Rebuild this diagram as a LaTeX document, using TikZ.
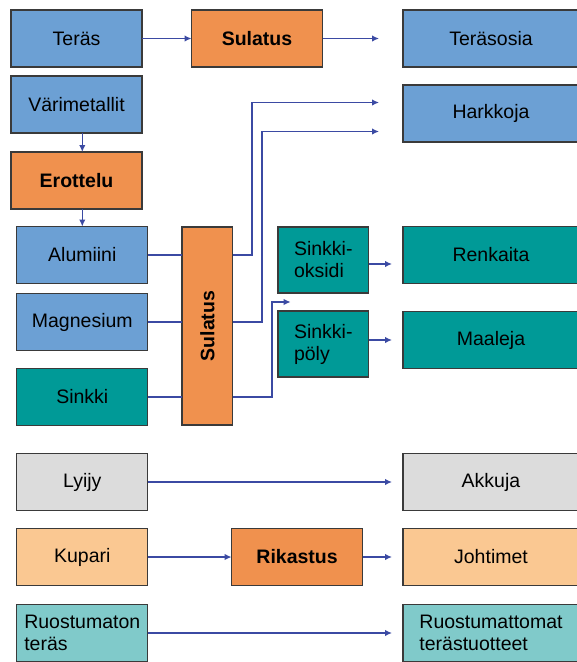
\documentclass[tikz,border=0pt]{standalone}
\usepackage{fontspec}
\setmainfont{Liberation Sans}
\usetikzlibrary{arrows.meta, calc, positioning}
\definecolor{metalblue}{RGB}{108,160,212}
\definecolor{steporange}{RGB}{240,145,78}
\definecolor{zincteal}{RGB}{0,154,151}
\definecolor{leadgray}{RGB}{220,220,220}
\definecolor{copperpeach}{RGB}{250,200,146}
\definecolor{stainlessteal}{RGB}{128,202,202}
\definecolor{flowblue}{RGB}{59,74,163}
\definecolor{edgegray}{RGB}{58,58,58}
\tikzstyle{material} = [rectangle, draw=edgegray, line width=1.3pt, minimum width=131pt, minimum height=57pt, align=left, outer sep=0pt]
\tikzstyle{process} = [material, fill=steporange, font=\bfseries]
\tikzstyle{product} = [material, minimum width=176pt]
\tikzstyle{arrow} = [flowblue, line width=1.5pt, ->, >={Latex[length=7pt,width=6.5pt]}]
\tikzstyle{link} = [flowblue, line width=1.5pt]

\begin{document}
\fontsize{19.5}{22}\selectfont
\begin{tikzpicture}[x=1pt, y=-1pt]
    \useasboundingbox (0,0) rectangle (577,662);
    % left column
    \node (Teras) [material, fill=metalblue] at (76.5,38.5) {Teräs};
    \node (Varimetallit) [material, fill=metalblue, below = 9pt of Teras] {Värimetallit};
    \node (Erottelu) [process, below = 19pt of Varimetallit] {Erottelu};
    \node (Alumiini) [material, fill=metalblue] at (82.3,255) {Alumiini};
    \node (Magnesium) [material, fill=metalblue, below = 10pt of Alumiini] {Magnesium};
    \node (Sinkki) [material, fill=zincteal, below = 18pt of Magnesium] {Sinkki};
    \node (Lyijy) [material, fill=leadgray, below = 28pt of Sinkki] {Lyijy};
    \node (Kupari) [material, fill=copperpeach, below = 18pt of Lyijy] {Kupari};
    \node (Ruostumaton) [material, fill=stainlessteal, below = 19pt of Kupari] {Ruostumaton\\teräs};
    % processes
    \node (SulatusA) [process, right = 49.5pt of Teras] {Sulatus};
    \node (SulatusB) [process, minimum width=50.6pt, minimum height=198pt] at (207.3,326) {\rotatebox{90}{Sulatus}};
    \node (Rikastus) [process, right = 83.8pt of Kupari] {Rikastus};
    \node (Sinkkioksidi) [material, fill=zincteal, minimum width=90.7pt, minimum height=66pt] at (323.3,260) {Sinkki-\\oksidi};
    \node (Sinkkipoly) [material, fill=zincteal, minimum width=90.7pt, minimum height=66pt, below = 18pt of Sinkkioksidi] {Sinkki-\\pöly};
    % products
    \node (Terasosia) [product, fill=metalblue, right = 80.5pt of SulatusA] {Teräsosia};
    \node (Harkkoja) [product, fill=metalblue, below = 18pt of Terasosia] {Harkkoja};
    \node (Renkaita) [product, fill=zincteal] at (Alumiini -| Harkkoja) {Renkaita};
    \node (Maaleja) [product, fill=zincteal, below = 28pt of Renkaita] {Maaleja};
    \node (Akkuja) [product, fill=leadgray] at (Lyijy -| Maaleja) {Akkuja};
    \node (Johtimet) [product, fill=copperpeach] at (Kupari -| Akkuja) {Johtimet};
    \node (Ruostumattomat) [product, fill=stainlessteal] at (Ruostumaton -| Johtimet) {Ruostumattomat\\terästuotteet};
    \coordinate (SinkkiGap) at ($(Sinkkioksidi.south west)!.5!(Sinkkipoly.north west) + (12.7,0)$);
    % connectors
    \draw [arrow] (Teras) -- (SulatusA);
    \draw [arrow, shorten >=24pt] (SulatusA) -- (Terasosia);
    \draw [arrow] (Varimetallit.south -| Alumiini) -- (Erottelu.north -| Alumiini);
    \draw [arrow] (Erottelu.south -| Alumiini) -- (Alumiini);
    \draw [link] (Alumiini) -- (Alumiini -| SulatusB.west);
    \draw [link] (Magnesium) -- (Magnesium -| SulatusB.west);
    \draw [link] (Sinkki) -- (Sinkki -| SulatusB.west);
    \draw [arrow, shorten >=24pt] (Alumiini -| SulatusB.east) -- ++(19.4,0) |- ([yshift=11pt]Harkkoja.west);
    \draw [arrow, shorten >=24pt] (Magnesium -| SulatusB.east) -- ++(29.4,0) |- ([yshift=-18pt]Harkkoja.west);
    \draw [arrow] (Sinkki -| SulatusB.east) -- ++(39.4,0) |- (SinkkiGap);
    \draw [arrow, shorten >=11pt] ([yshift=-4pt]Sinkkioksidi.east) -- ([yshift=-4pt]Sinkkioksidi.east -| Renkaita.west);
    \draw [arrow, shorten >=11pt] (Maaleja -| Sinkkipoly.east) -- (Maaleja);
    \draw [arrow, shorten >=11pt] (Lyijy) -- (Akkuja);
    \draw [arrow] (Kupari) -- (Rikastus);
    \draw [arrow, shorten >=11pt] (Rikastus) -- (Johtimet);
    \draw [arrow, shorten >=11pt] (Ruostumaton) -- (Ruostumattomat);
\end{tikzpicture}
\end{document}
